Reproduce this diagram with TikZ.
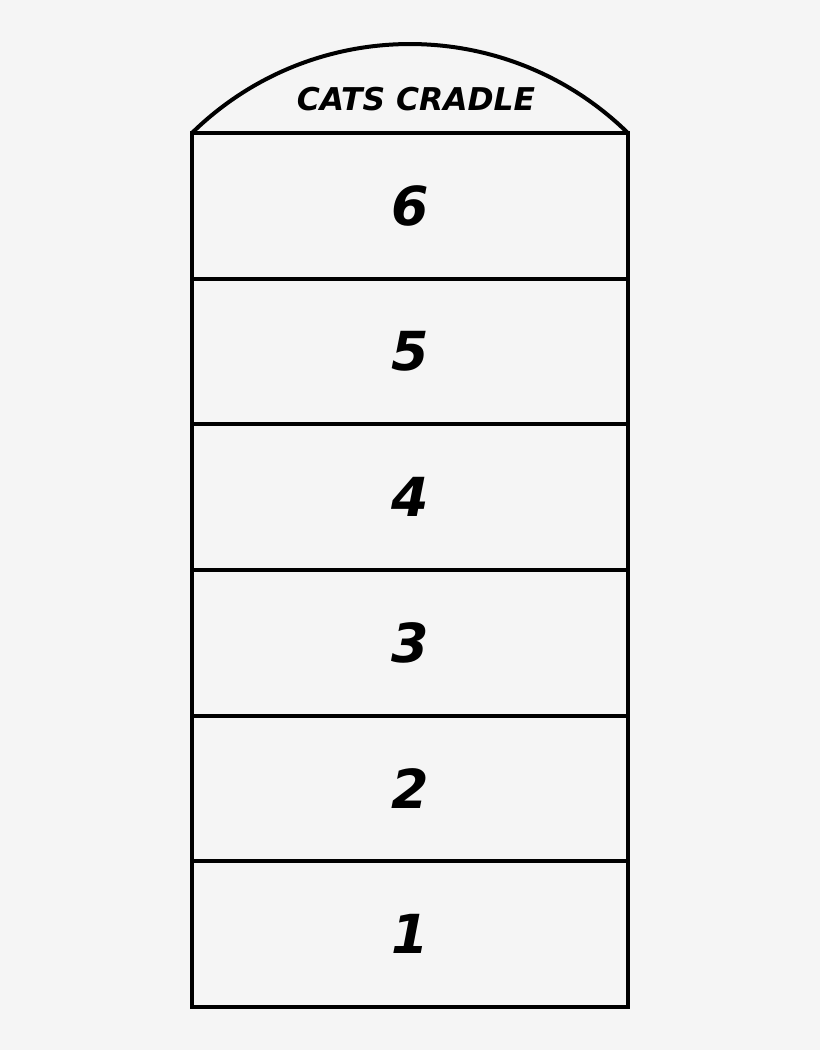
\documentclass[tikz,border=0pt]{standalone}
\usepackage{fontspec}
\setmainfont{DejaVu Sans}
\definecolor{pageBg}{HTML}{F5F5F5}
\tikzset{
levelstyle/.style={rectangle, draw, line width=4bp, minimum width=436bp, minimum height=145.67bp, inner sep=0pt, outer sep=0pt, font=\fontsize{54}{60}\selectfont\bfseries\itshape},
titlestyle/.style={inner sep=0pt, font=\fontsize{31.5}{34}\selectfont\bfseries\itshape}
}
\newcommand{\level}[2]{
  \node [levelstyle] (level#1) at (410,#2) {#1};
}
\begin{document}
\begin{tikzpicture}[x=1bp,y=1bp]

\fill [pageBg] (0,0) rectangle (820,1050);
\useasboundingbox (0,0) rectangle (820,1050);

\foreach \i in {1,...,6}
{
  \pgfmathsetmacro{\posy}{43 + (\i - 0.5) * 145.67}
  \level{\i}{\posy}
}

\draw [line width=4bp] (level6.north west) arc [start angle=134.4, end angle=45.6, radius=311.5bp];
\node [titlestyle] (title) at (416,951) {CATS CRADLE};

\end{tikzpicture}
\end{document}
